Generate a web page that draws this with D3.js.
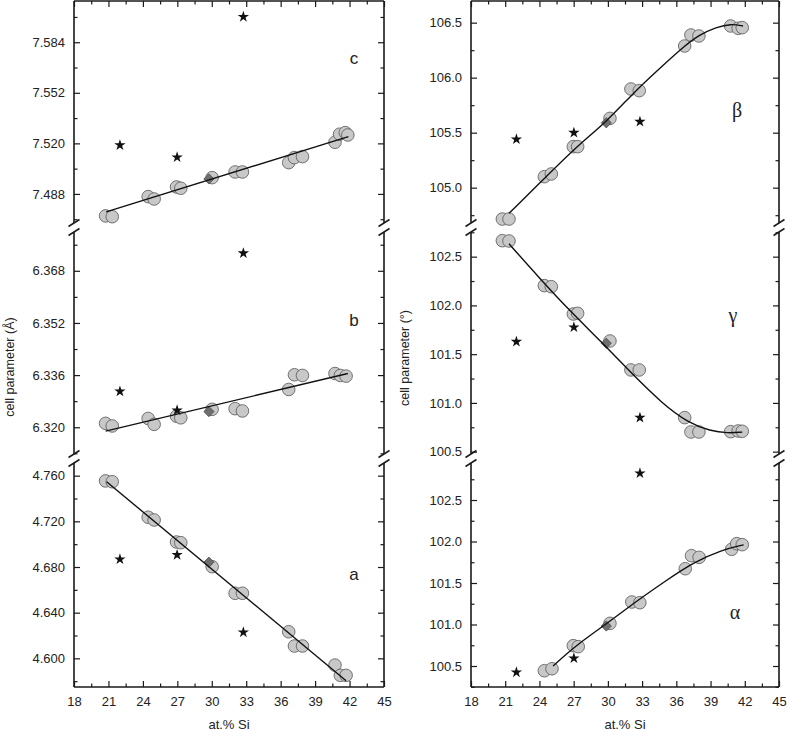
<!DOCTYPE html>
<html>
<head>
<meta charset="utf-8">
<script src="https://cdn.jsdelivr.net/npm/d3@7"></script>
<style>
  html, body { margin: 0; padding: 0; background: #fff; }
  svg { display: block; }
  .tick text { font-size: 13px; font-family: "Liberation Sans", Arial, Helvetica, sans-serif; }
</style>
</head>
<body>
<script>
// ---------------- data ----------------
const xTicksMajor = [18, 21, 24, 27, 30, 33, 36, 39, 42, 45];
const xTicksMinor = [19.5, 22.5, 25.5, 28.5, 31.5, 34.5, 37.5, 40.5, 43.5];

// Left column (cell lengths, Å)
const cX = [20.75, 21.33, 24.46, 24.98, 26.93, 27.3, 30.03, 32.03, 32.67, 36.7, 37.2, 37.9, 40.73, 41.13, 41.63, 41.85];
const cY = [7.4741, 7.4736, 7.4863, 7.4848, 7.4924, 7.4916, 7.4983, 7.5019, 7.5019, 7.5078, 7.5110, 7.5116, 7.5207, 7.5258, 7.5268, 7.5253];
const bX = [20.75, 21.33, 24.46, 24.98, 26.93, 27.3, 30.03, 32.03, 32.67, 36.7, 37.2, 37.9, 40.73, 41.2, 41.7];
const bY = [6.3212, 6.3204, 6.3227, 6.3209, 6.3234, 6.3229, 6.3255, 6.3257, 6.3250, 6.3316, 6.3361, 6.3359, 6.3365, 6.3359, 6.3357];
const aX = [20.75, 21.33, 24.46, 24.98, 26.93, 27.3, 30.03, 32.03, 32.67, 36.7, 37.2, 37.9, 40.73, 41.2, 41.7];
const aY = [4.7554, 4.7547, 4.7236, 4.7212, 4.7019, 4.7013, 4.6803, 4.6570, 4.6570, 4.6233, 4.6108, 4.6108, 4.5941, 4.5851, 4.5851];

const leftDiamondX = 29.75;
const cDiamond = 7.4975, bDiamond = 6.3248, aDiamond = 4.6842;

const leftStarX = [22.0, 26.98, 32.75];
const cStar = [7.5189, 7.5112, 7.6001];
const bStar = [6.3310, 6.3252, 6.3734];
const aStar = [4.6868, 4.6906, 4.6228];

const cFitX = [20.8, 41.9],  cFitY = [7.4766, 7.5243];
const bFitX = [20.75, 41.85], bFitY = [6.3188, 6.3365];
const aFitX = [20.84, 41.7], aFitY = [4.7547, 4.5804];

// Right column (cell angles, °)
const rX = [20.75, 21.33, 24.43, 25.04, 26.97, 27.35, 30.18, 32.02, 32.75, 36.73, 37.28, 37.98, 40.76, 41.42, 41.78];
const betaY  = [104.715, 104.715, 105.100, 105.125, 105.373, 105.373, 105.630, 105.897, 105.882, 106.288, 106.388, 106.379, 106.470, 106.449, 106.455];
const gammaY = [102.664, 102.661, 102.203, 102.192, 101.912, 101.919, 101.635, 101.338, 101.338, 100.849, 100.702, 100.702, 100.705, 100.712, 100.709];
const alphaX = [24.43, 25.1, 26.97, 27.4, 30.18, 32.1, 32.8, 36.78, 37.33, 38.0, 40.85, 41.29, 41.78];
const alphaY = [100.443, 100.467, 100.745, 100.733, 101.014, 101.271, 101.263, 101.672, 101.829, 101.809, 101.906, 101.974, 101.962];

const rightDiamondX = 29.86;
const betaDiamond = 105.59, gammaDiamond = 101.612, alphaDiamond = 100.982;

const rightStarX = [21.98, 27.02, 32.81];
const betaStar  = [105.44, 105.50, 105.60];
const gammaStar = [101.628, 101.776, 100.849];
const alphaStar = [100.424, 100.593, 102.822];

const betaFitX  = [21.33, 24.5, 27.1, 30.0, 32.3, 34.5, 36.5, 38.0, 39.5, 40.8, 41.85];
const betaFitY  = [104.767, 105.09, 105.36, 105.61, 105.87, 106.08, 106.27, 106.39, 106.46, 106.49, 106.47];
const gammaFitX = [21.33, 24.0, 26.7, 29.4, 32.1, 34.8, 37.0, 39.0, 40.5, 41.78];
const gammaFitY = [102.633, 102.28, 101.94, 101.63, 101.30, 100.99, 100.80, 100.71, 100.69, 100.70];
const alphaFitX = [25.2, 27.2, 30.0, 32.5, 35.0, 37.5, 40.0, 41.9];
const alphaFitY = [100.50, 100.75, 101.02, 101.28, 101.52, 101.75, 101.90, 101.96];

// tick values
const cTicks = [7.488, 7.520, 7.552, 7.584], cMinor = [7.472, 7.504, 7.536, 7.568, 7.600];
const bTicks = [6.320, 6.336, 6.352, 6.368], bMinor = [6.312, 6.328, 6.344, 6.360, 6.376];
const aTicks = [4.600, 4.640, 4.680, 4.720, 4.760], aMinor = [4.580, 4.620, 4.660, 4.700, 4.740];
const betaTicks = [105.0, 105.5, 106.0, 106.5], betaMinor = [104.75, 105.25, 105.75, 106.25];
const gammaTicks = [100.5, 101.0, 101.5, 102.0, 102.5], gammaMinor = [100.75, 101.25, 101.75, 102.25, 102.75];
const alphaTicks = [100.5, 101.0, 101.5, 102.0, 102.5], alphaMinor = [100.25, 100.75, 101.25, 101.75, 102.25, 102.75];

// ---------------- layout ----------------
const W = 787, H = 730;
const yTop = 1, yBot = 687;
const segs = [[yTop, 223], [232, 454], [463, yBot]];
const SANS = '"Liberation Sans", Arial, Helvetica, sans-serif';
const SERIF = '"Liberation Serif", "Times New Roman", serif';
const cols = [
  { x0: 74, x1: 384, title: "cell parameter (Å)", titleX: 10, titleY: 367, fmt: d3.format(".3f") },
  { x0: 471, x1: 779, title: "cell parameter (°)", titleX: 405, titleY: 358, fmt: d3.format(".1f") }
];

const panels = [
  { col: 0, seg: 0, domain: [7.4696, 7.6101], ticks: cTicks, minor: cMinor, label: "c", greek: false,
    pts: [cX, cY], dia: [leftDiamondX, cDiamond], stars: [leftStarX, cStar], fit: [cFitX, cFitY], lab: [354, 64] },
  { col: 0, seg: 1, domain: [6.3118, 6.3799], ticks: bTicks, minor: bMinor, label: "b", greek: false,
    pts: [bX, bY], dia: [leftDiamondX, bDiamond], stars: [leftStarX, bStar], fit: [bFitX, bFitY], lab: [354, 326] },
  { col: 0, seg: 2, domain: [4.5749, 4.7711], ticks: aTicks, minor: aMinor, label: "a", greek: false,
    pts: [aX, aY], dia: [leftDiamondX, aDiamond], stars: [leftStarX, aStar], fit: [aFitX, aFitY], lab: [354, 580] },
  { col: 1, seg: 0, domain: [104.679, 106.697], ticks: betaTicks, minor: betaMinor, label: "β", greek: true,
    pts: [rX, betaY], dia: [rightDiamondX, betaDiamond], stars: [rightStarX, betaStar], fit: [betaFitX, betaFitY], lab: [737, 117] },
  { col: 1, seg: 1, domain: [100.476, 102.753], ticks: gammaTicks, minor: gammaMinor, label: "γ", greek: true,
    pts: [rX, gammaY], dia: [rightDiamondX, gammaDiamond], stars: [rightStarX, gammaStar], fit: [gammaFitX, gammaFitY], lab: [733, 322] },
  { col: 1, seg: 2, domain: [100.247, 102.946], ticks: alphaTicks, minor: alphaMinor, label: "α", greek: true,
    pts: [alphaX, alphaY], dia: [rightDiamondX, alphaDiamond], stars: [rightStarX, alphaStar], fit: [alphaFitX, alphaFitY], lab: [735, 619] }
];

const svg = d3.select("body").append("svg").attr("width", W).attr("height", H);

const AX = "#1a1a1a";
const TXT = "#222";
const majorLen = 6, minorLen = 3.5;

function styleAxis(sel) {
  sel.attr("font-size", 13).attr("font-family", SANS);
  sel.select(".domain").remove();
  sel.selectAll(".tick line").attr("stroke", AX).attr("stroke-width", 1.2);
  sel.selectAll(".tick text").attr("fill", TXT).attr("font-size", 13)
    .style("font-size", "13px").style("font-family", SANS);
}

cols.forEach(col => {
  const x = d3.scaleLinear().domain([18, 45]).range([col.x0, col.x1]);
  col.x = x;
  const g = svg.append("g");

  // bottom axis (ticks inward)
  g.append("g").attr("transform", `translate(0,${yBot})`)
    .call(d3.axisBottom(x).tickValues(xTicksMajor).tickSize(-majorLen).tickPadding(10).tickFormat(d3.format("d")))
    .call(styleAxis);
  g.append("g").attr("transform", `translate(0,${yBot})`)
    .call(d3.axisBottom(x).tickValues(xTicksMinor).tickSize(-minorLen).tickFormat("")).call(styleAxis);
  // top axis (ticks inward)
  g.append("g").attr("transform", `translate(0,${yTop})`)
    .call(d3.axisTop(x).tickValues(xTicksMajor).tickSize(-majorLen).tickFormat("")).call(styleAxis);
  g.append("g").attr("transform", `translate(0,${yTop})`)
    .call(d3.axisTop(x).tickValues(xTicksMinor).tickSize(-minorLen).tickFormat("")).call(styleAxis);

  // x title
  g.append("text").attr("x", (col.x0 + col.x1) / 2).attr("y", 728.5)
    .attr("text-anchor", "middle").style("font-size", "13px").style("font-family", SANS).attr("fill", TXT).text("at.% Si");
  // y title
  g.append("text").attr("transform", `translate(${col.titleX},${col.titleY}) rotate(-90)`)
    .attr("text-anchor", "middle").attr("dominant-baseline", "central")
    .style("font-size", "12.5px").style("font-family", SANS).attr("fill", TXT).text(col.title);

  // horizontal frame lines
  g.append("line").attr("x1", col.x0).attr("x2", col.x1).attr("y1", yTop).attr("y2", yTop)
    .attr("stroke", AX).attr("stroke-width", 1.6);
  g.append("line").attr("x1", col.x0).attr("x2", col.x1).attr("y1", yBot).attr("y2", yBot)
    .attr("stroke", AX).attr("stroke-width", 1.6);

  // vertical frame segments with break marks
  segs.forEach(s => {
    [col.x0, col.x1].forEach(xx => {
      g.append("line").attr("x1", xx).attr("x2", xx).attr("y1", s[0]).attr("y2", s[1])
        .attr("stroke", AX).attr("stroke-width", 1.6);
    });
  });
  for (let i = 0; i < segs.length - 1; i++) {
    [segs[i][1], segs[i + 1][0]].forEach(yy => {
      [col.x0, col.x1].forEach(xx => {
        g.append("line").attr("x1", xx - 5.5).attr("y1", yy + 3.5).attr("x2", xx + 5.5).attr("y2", yy - 3.5)
          .attr("stroke", AX).attr("stroke-width", 1.5);
      });
    });
  }
});

const star = d3.symbol().type(d3.symbolStar).size(40);
const diamond = d3.symbol().type(d3.symbolSquare).size(52);

panels.forEach(p => {
  const col = cols[p.col];
  const x = col.x;
  const s = segs[p.seg];
  const y = d3.scaleLinear().domain(p.domain).range([s[1], s[0]]);
  const g = svg.append("g");
  const minorIn = p.minor.filter(v => v >= p.domain[0] && v <= p.domain[1]);

  // y axes
  g.append("g").attr("transform", `translate(${col.x0},0)`)
    .call(d3.axisLeft(y).tickValues(p.ticks).tickSize(-majorLen).tickPadding(9).tickFormat(col.fmt)).call(styleAxis);
  g.append("g").attr("transform", `translate(${col.x0},0)`)
    .call(d3.axisLeft(y).tickValues(minorIn).tickSize(-minorLen).tickFormat("")).call(styleAxis);
  g.append("g").attr("transform", `translate(${col.x1},0)`)
    .call(d3.axisRight(y).tickValues(p.ticks).tickSize(-majorLen).tickFormat("")).call(styleAxis);
  g.append("g").attr("transform", `translate(${col.x1},0)`)
    .call(d3.axisRight(y).tickValues(minorIn).tickSize(-minorLen).tickFormat("")).call(styleAxis);

  // points
  const pts = p.pts[0].map((v, i) => [v, p.pts[1][i]]);
  g.append("g").selectAll("circle").data(pts).join("circle")
    .attr("cx", d => x(d[0])).attr("cy", d => y(d[1])).attr("r", 6.3)
    .attr("fill", "#c8c8c8").attr("stroke", "#555").attr("stroke-width", 0.8);

  // diamond
  g.append("path").attr("d", diamond)
    .attr("transform", `translate(${x(p.dia[0])},${y(p.dia[1])}) rotate(45)`)
    .attr("fill", "#6f6f6f").attr("stroke", "#444").attr("stroke-width", 0.7);

  // fit line
  const fitPts = p.fit[0].map((v, i) => [v, p.fit[1][i]]);
  g.append("path").datum(fitPts)
    .attr("d", d3.line().x(d => x(d[0])).y(d => y(d[1])).curve(d3.curveBasis))
    .attr("fill", "none").attr("stroke", "#111").attr("stroke-width", 1.4);

  // stars
  const st = p.stars[0].map((v, i) => [v, p.stars[1][i]]);
  g.append("g").selectAll("path").data(st).join("path")
    .attr("d", star).attr("transform", d => `translate(${x(d[0])},${y(d[1])})`)
    .attr("fill", "#111");

  // panel label
  g.append("text").attr("x", p.lab[0]).attr("y", p.lab[1]).attr("text-anchor", "middle")
    .style("font-size", p.greek ? "20px" : "17px")
    .style("font-family", p.greek ? SERIF : SANS)
    .attr("fill", TXT)
    .text(p.label);
});
</script>
</body>
</html>
